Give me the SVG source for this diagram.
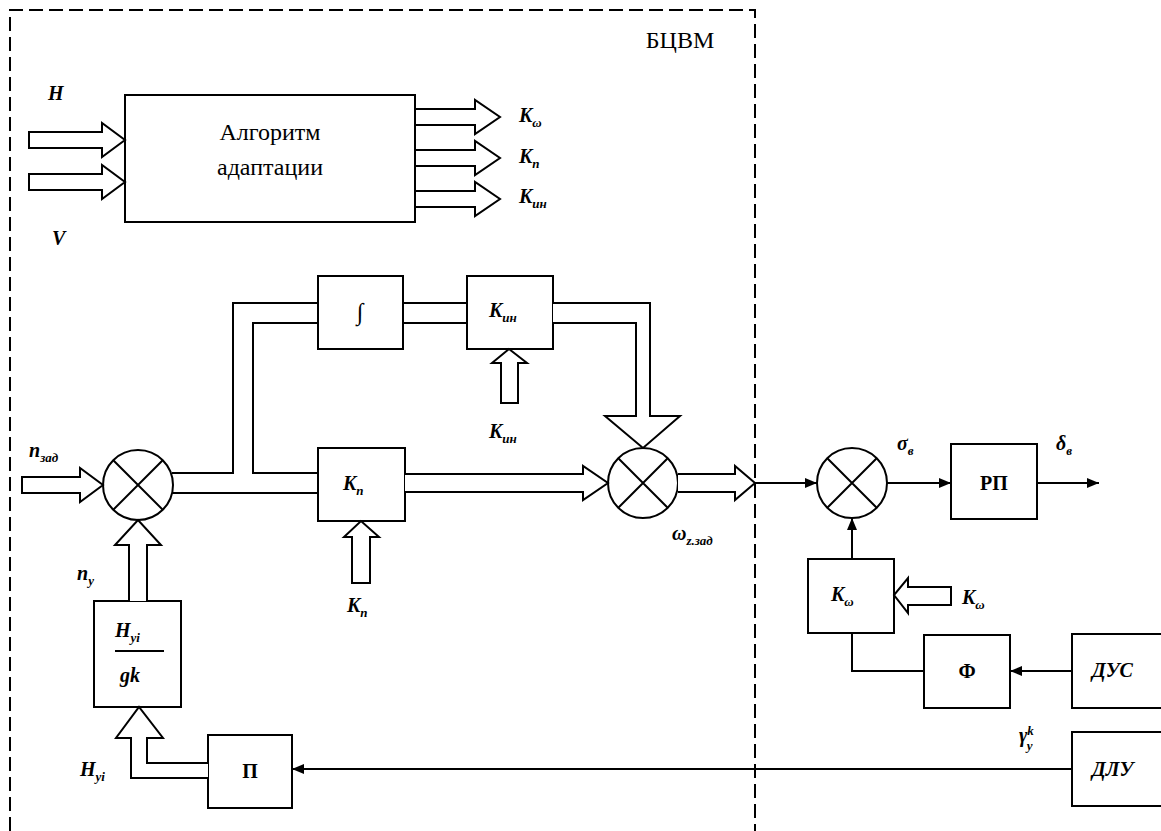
<svg xmlns="http://www.w3.org/2000/svg" width="1161" height="831" viewBox="0 0 1161 831" font-family="'Liberation Serif', 'Times New Roman', 'DejaVu Serif', serif">
<style>
.ln{fill:none;stroke:#000;stroke-width:2}
.box{fill:#fff;stroke:#000;stroke-width:2}
.ha{fill:#fff;stroke:#000;stroke-width:2;stroke-linejoin:miter}
.dash{fill:none;stroke:#000;stroke-width:2;stroke-dasharray:14 6}
.t{font-family:'Liberation Serif','Times New Roman','DejaVu Serif',serif;font-size:24px;fill:#000}
.lab{font-family:'Liberation Serif','Times New Roman','DejaVu Serif',serif;font-size:20px;font-weight:bold;font-style:italic;fill:#000}
.sub{font-size:13px}
.bl{font-family:'Liberation Serif','Times New Roman','DejaVu Serif',serif;font-size:20px;font-weight:bold;fill:#000}
</style>
<defs>
<marker id="ah" markerWidth="12" markerHeight="10" refX="12" refY="5" orient="auto" markerUnits="userSpaceOnUse">
<path d="M0,0 L12,5 L0,10 Z" fill="#000"/>
</marker>
</defs>
<rect width="1161" height="831" fill="#fff"/>
<path class="dash" d="M10,831 V10 H755 V831"/>
<text class="t" x="680" y="48" text-anchor="middle" font-size="21">БЦВМ</text>

<g id="algo">
<rect class="box" x="125" y="95" width="290" height="127"/>
<text class="t" x="270" y="140" text-anchor="middle">Алгоритм</text>
<text class="t" x="270" y="175" text-anchor="middle">адаптации</text>
</g>
<g id="integ"><rect class="box" x="318" y="276" width="85" height="73"/><text class="t" x="360" y="320" text-anchor="middle" font-size="26">∫</text></g>
<g id="kint"><rect class="box" x="467" y="276" width="86" height="73"/><text class="lab" x="489" y="317">K<tspan class="sub" dy="5">ин</tspan></text></g>
<g id="kn"><rect class="box" x="318" y="448" width="87" height="73"/><text class="lab" x="343" y="490">K<tspan class="sub" dy="5">n</tspan></text></g>
<g id="sum1"><circle class="box" cx="138" cy="485" r="35"/><path class="ln" d="M113.3,460.3 L162.7,509.7 M162.7,460.3 L113.3,509.7"/></g>
<g id="sum2"><circle class="box" cx="643" cy="483" r="35"/><path class="ln" d="M618.3,458.3 L667.7,507.7 M667.7,458.3 L618.3,507.7"/></g>
<g id="sum3"><circle class="box" cx="852" cy="483" r="35"/><path class="ln" d="M827.3,458.3 L876.7,507.7 M876.7,458.3 L827.3,507.7"/></g>
<g id="hgk"><rect class="box" x="94" y="601" width="87" height="106"/>
<text class="lab" x="115" y="637">H<tspan class="sub" dy="5">yi</tspan></text>
<line class="ln" x1="115" y1="651" x2="164" y2="651" stroke-width="2.5"/>
<text class="lab" x="120" y="682">gk</text></g>
<g id="p"><rect class="box" x="208" y="735" width="84" height="73"/><text class="bl" x="250" y="778" text-anchor="middle">П</text></g>
<g id="rp"><rect class="box" x="951" y="444" width="86" height="75"/><text class="bl" x="994" y="490" text-anchor="middle">РП</text></g>
<g id="kw"><rect class="box" x="808" y="559" width="86" height="74"/><text class="lab" x="831" y="601">K<tspan class="sub" dy="5">ω</tspan></text></g>
<g id="f"><rect class="box" x="924" y="635" width="86" height="73"/><text class="bl" x="967" y="678" text-anchor="middle">Ф</text></g>
<g id="dus"><rect class="box" x="1072" y="634" width="95" height="74"/><text class="lab" x="1092" y="677">ДУС</text></g>
<g id="dlu"><rect class="box" x="1072" y="732" width="95" height="74"/><text class="lab" x="1092" y="776">ДЛУ</text></g>

<g id="connectors">
<path class="ha" d="M29,132 H102 V123 L125,140 L102,157 V148 H29 Z"/>
<path class="ha" d="M29,174 H102 V165 L125,182 L102,199 V190 H29 Z"/>
<path class="ha" d="M415,109 H475 V100 L500,117 L475,134 V125 H415 Z"/>
<path class="ha" d="M415,150 H475 V141 L500,158 L475,175 V166 H415 Z"/>
<path class="ha" d="M415,191 H475 V182 L500,199 L475,216 V207 H415 Z"/>
<path class="ha" d="M22,477 H80 V468 L103,485 L80,502 V493 H22 Z"/>
<path class="ln" d="M172,473 H233 V303 H318"/>
<path class="ln" d="M318,323 H253 V473 H318"/>
<path class="ln" d="M172,493 H318"/>
<path class="ln" d="M403,303 H467 M403,323 H467"/>
<path class="ha" d="M553,303 H650 V416 H680 L643,448 L605,416 H636 V323 H553"/>
<path class="ha" d="M405,474 H583 V466 L608,483 L583,500 V492 H405"/>
<path class="ha" d="M501,403 V363 H492 L509,349 L527,363 H518 V403 Z"/>
<path class="ha" d="M352,583 V537 H344 L361,521 L379,537 H370 V583 Z"/>
<path class="ha" d="M678,474 H735 V466 L755,483 L735,500 V492 H678"/>
<path class="ha" d="M129,601 V545 H115 L138,520 L161,545 H147 V601"/>
<path class="ha" d="M208,778 H131 V738 H116 L139,707 L163,738 H147 V763 H208"/>
<line class="ln" x1="755" y1="483" x2="817" y2="483" marker-end="url(#ah)"/>
<line class="ln" x1="887" y1="483" x2="951" y2="483" marker-end="url(#ah)"/>
<line class="ln" x1="1037" y1="483" x2="1099" y2="483" marker-end="url(#ah)"/>
<line class="ln" x1="852" y1="559" x2="852" y2="518" marker-end="url(#ah)"/>
<path class="ln" d="M924,671 H852 V633"/>
<line class="ln" x1="1072" y1="671" x2="1010" y2="671" marker-end="url(#ah)"/>
<line class="ln" x1="1072" y1="769" x2="292" y2="769" marker-end="url(#ah)"/>
<path class="ha" d="M951,587 H908 V578 L894,595 L908,613 V605 H951 Z"/>
</g>

<g id="labels">
<text class="lab" x="48" y="100">H</text>
<text class="lab" x="52" y="245">V</text>
<text class="lab" x="519" y="122">K<tspan class="sub" dy="5">ω</tspan></text>
<text class="lab" x="519" y="163">K<tspan class="sub" dy="5">n</tspan></text>
<text class="lab" x="519" y="203">K<tspan class="sub" dy="5">ин</tspan></text>
<text class="lab" x="489" y="438">K<tspan class="sub" dy="5">ин</tspan></text>
<text class="lab" x="347" y="612">K<tspan class="sub" dy="5">n</tspan></text>
<text class="lab" x="29" y="457">n<tspan class="sub" dy="5">зад</tspan></text>
<text class="lab" x="77" y="580">n<tspan class="sub" dy="5">y</tspan></text>
<text class="lab" x="672" y="540">ω<tspan class="sub" dy="5">z.зад</tspan></text>
<text class="lab" x="897" y="450">σ<tspan class="sub" dy="5">в</tspan></text>
<text class="lab" x="1056" y="450">δ<tspan class="sub" dy="5">в</tspan></text>
<text class="lab" x="962" y="604">K<tspan class="sub" dy="5">ω</tspan></text>
<text class="lab" x="80" y="776">H<tspan class="sub" dy="5">yi</tspan></text>
<text class="lab" x="1019" y="742">γ<tspan class="sub" dy="-7">k</tspan><tspan class="sub" dx="-7" dy="15">y</tspan></text>
</g>
</svg>
